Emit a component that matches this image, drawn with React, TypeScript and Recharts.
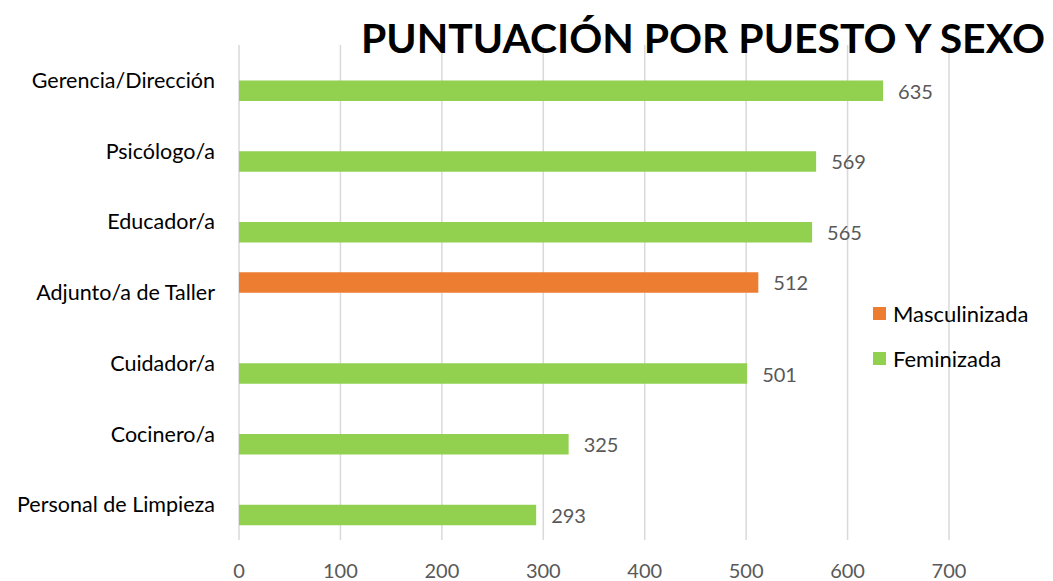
import { BarChart, Bar, XAxis, YAxis, CartesianGrid, Legend, LabelList } from "recharts";

// Puestos (top to bottom) and which group each one belongs to
const categories = [
  "Gerencia/Dirección",
  "Psicólogo/a",
  "Educador/a",
  "Adjunto/a de Taller",
  "Cuidador/a",
  "Cocinero/a",
  "Personal de Limpieza",
];
const masculinizada = [null, null, null, 512, null, null, null];
const feminizada = [635, 569, 565, null, 501, 325, 293];
const xTicks = [0, 100, 200, 300, 400, 500, 600, 700];
const seriesOrder = ["Masculinizada", "Feminizada"];

const data = categories.map((name, i) => ({
  name,
  Masculinizada: masculinizada[i],
  Feminizada: feminizada[i],
}));

const FONT = "Lato, 'Open Sans', sans-serif";

const valueLabel = (props: any) => {
  const { x, y, width, height, value } = props;
  if (value == null) return null;
  return (
    <text
      x={Number(x) + Number(width) + 15}
      y={Number(y) + Number(height) / 2}
      dominantBaseline="central"
      fill="#595959"
      fontSize={20}
      fontFamily={FONT}
    >
      {value}
    </text>
  );
};

const renderLegend = (props: any) => {
  const items = [...props.payload].sort(
    (a: any, b: any) => seriesOrder.indexOf(a.value) - seriesOrder.indexOf(b.value)
  );
  return (
    <div style={{ fontFamily: FONT }}>
      {items.map((p: any) => (
        <div key={p.value} style={{ display: "flex", alignItems: "center", height: 45 }}>
          <span style={{ width: 13, height: 13, background: p.color, marginRight: 7, display: "inline-block" }} />
          <span style={{ fontSize: 22, color: "#000" }}>{p.value}</span>
        </div>
      ))}
    </div>
  );
};

export default function App() {
  return (
    <div style={{ position: "absolute", left: 0, top: 0, width: 1053, height: 581, background: "#fff" }}>
      <BarChart
        width={1053}
        height={581}
        data={data}
        layout="vertical"
        margin={{ top: 45, right: 104, bottom: 0, left: 0 }}
        barGap={0}
        barSize={20.5}
      >
        <CartesianGrid horizontal={false} stroke="#d9d9d9" strokeWidth={1.5} />
        <XAxis
          type="number"
          domain={[0, 700]}
          ticks={xTicks}
          axisLine={false}
          tickLine={false}
          tickSize={0}
          tickMargin={24}
          height={41}
          tick={{ fill: "#595959", fontSize: 20, fontFamily: FONT }}
        />
        <YAxis
          type="category"
          dataKey="name"
          width={239}
          axisLine={false}
          tickLine={false}
          tickSize={0}
          tickMargin={24}
          tick={{ fill: "#000", fontSize: 21.5, fontFamily: FONT }}
        />
        <Legend
          layout="vertical"
          align="center"
          verticalAlign="middle"
          content={renderLegend}
          wrapperStyle={{ left: 873, top: 291, width: 180 }}
        />
        <Bar dataKey="Masculinizada" fill="#ED7D31" isAnimationActive={false}>
          <LabelList dataKey="Masculinizada" content={valueLabel} />
        </Bar>
        <Bar dataKey="Feminizada" fill="#92D050" isAnimationActive={false}>
          <LabelList dataKey="Feminizada" content={valueLabel} />
        </Bar>
      </BarChart>
      <svg width={1053} height={70} style={{ position: "absolute", left: 0, top: 0, pointerEvents: "none" }}>
        <text
          x={361}
          y={53}
          fontSize={41}
          fontWeight="bold"
          fontFamily={FONT}
          fill="#000"
          textLength={684}
          lengthAdjust="spacingAndGlyphs"
        >
          PUNTUACIÓN POR PUESTO Y SEXO
        </text>
      </svg>
    </div>
  );
}
